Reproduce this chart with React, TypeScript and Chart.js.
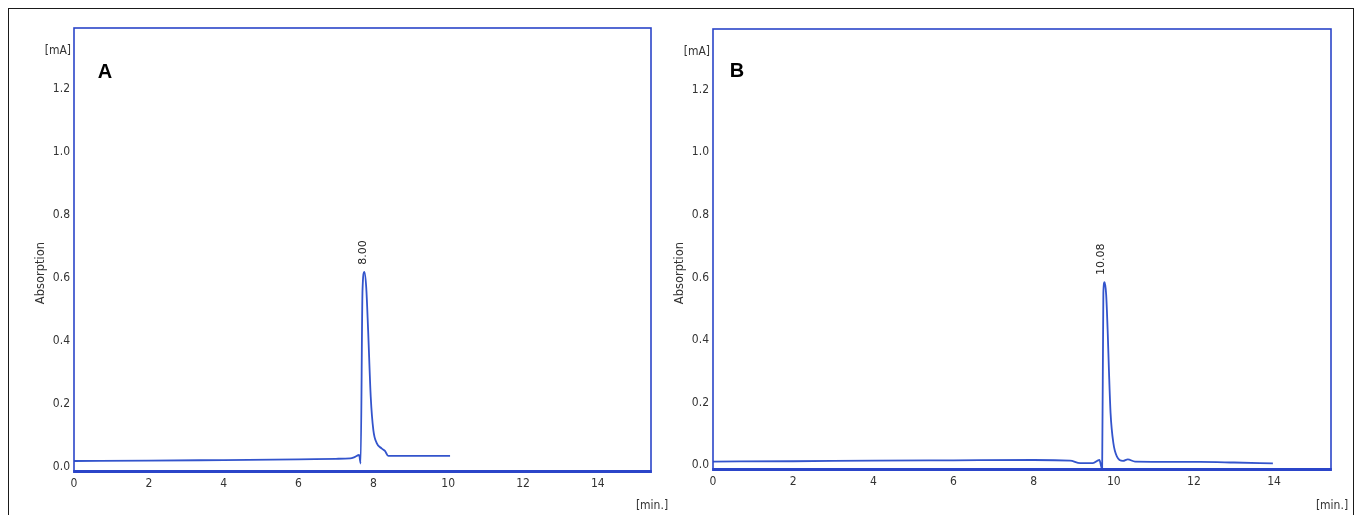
import React, { useEffect, useRef } from "react";
import { Chart, registerables } from "chart.js";

Chart.register(...registerables);

// ---- Data ----
const xTickValues = [0, 2, 4, 6, 8, 10, 12, 14];
const yTickValues = [0, 0.2, 0.4, 0.6, 0.8, 1.0, 1.2];
const X_MAX = 15.42;
const Y_MIN = -0.016;
const Y_MAX = 1.3946;

const timesA = [0, 2, 4, 6, 7, 7.38, 7.51, 7.62, 7.66, 7.71, 7.76, 7.81, 7.86, 7.93, 8.0, 8.09, 8.22, 8.31, 8.4, 9.0, 10.05];
const absorbanceA = [0.019, 0.02, 0.022, 0.024, 0.026, 0.027, 0.032, 0.038, 0.011, 0.56, 0.62, 0.57, 0.435, 0.223, 0.117, 0.076, 0.059, 0.051, 0.035, 0.035, 0.035];
const peakTimeA = 7.76;
const peakValueA = 0.62;
const peakLabelA = "8.00";

const timesB = [0, 2, 4, 6, 8, 8.91, 9.16, 9.48, 9.64, 9.71, 9.74, 9.77, 9.81, 9.85, 9.88, 9.92, 9.99, 10.08, 10.23, 10.35, 10.53, 12.15, 13.0, 13.97];
const absorbanceB = [0.011, 0.012, 0.014, 0.015, 0.016, 0.014, 0.006, 0.006, 0.016, -0.013, 0.55, 0.585, 0.545, 0.42, 0.3, 0.166, 0.07, 0.027, 0.013, 0.018, 0.011, 0.01, 0.008, 0.005];
const peakTimeB = 9.77;
const peakValueB = 0.585;
const peakLabelB = "10.08";

const yAxisUnit = "[mA]";
const xAxisUnit = "[min.]";
const yAxisTitle = "Absorption";

// ---- Styles ----
const FRAME_BLUE = "#2b45c9";
const CURVE_BLUE = "#3354cc";
const TEXT = "#333333";
const NARROW = '"Liberation Sans Narrow", "DejaVu Sans Condensed", "Liberation Sans", sans-serif';
const SANS = '"DejaVu Sans", "Liberation Sans", sans-serif';

type PanelCfg = {
  letter: string;
  times: number[];
  values: number[];
  peakTime: number;
  peakValue: number;
  peakLabel: string;
  left: number;
  width: number;
  height: number;
  padTop: number;
  padRight: number;
  yAxisWidth: number;
  xAxisHeight: number;
  letterDx: number;
  letterY: number;
  peakDx: number;
};

const panels: PanelCfg[] = [
  {
    letter: "A",
    times: timesA,
    values: absorbanceA,
    peakTime: peakTimeA,
    peakValue: peakValueA,
    peakLabel: peakLabelA,
    left: 0,
    width: 680,
    height: 515,
    padTop: 28,
    padRight: 680 - 651,
    yAxisWidth: 74,
    xAxisHeight: 515 - 472,
    letterDx: 31,
    letterY: 72,
    peakDx: -1.5,
  },
  {
    letter: "B",
    times: timesB,
    values: absorbanceB,
    peakTime: peakTimeB,
    peakValue: peakValueB,
    peakLabel: peakLabelB,
    left: 655,
    width: 700,
    height: 515,
    padTop: 29,
    padRight: 700 - 676,
    yAxisWidth: 58,
    xAxisHeight: 515 - 470,
    letterDx: 24,
    letterY: 71,
    peakDx: -3,
  },
];

function makeDecorPlugin(cfg: PanelCfg) {
  return {
    id: "decor" + cfg.letter,
    afterDraw(chart: any) {
      const { ctx, chartArea } = chart;
      const { left, right, top, bottom } = chartArea;
      ctx.save();
      // plot frame
      ctx.strokeStyle = FRAME_BLUE;
      ctx.lineWidth = 1.6;
      ctx.strokeRect(left, top, right - left, bottom - top);
      ctx.lineWidth = 3;
      ctx.beginPath();
      ctx.moveTo(left - 0.8, bottom - 0.5);
      ctx.lineTo(right + 0.8, bottom - 0.5);
      ctx.stroke();

      ctx.fillStyle = TEXT;
      // unit on y
      ctx.font = "12px " + NARROW;
      ctx.textAlign = "right";
      ctx.textBaseline = "middle";
      ctx.fillText(yAxisUnit, left - 3, top + 23);
      // unit on x
      ctx.textAlign = "center";
      ctx.fillText(xAxisUnit, right + 1, 506);

      // y title rotated
      ctx.save();
      ctx.translate(left - 32.5, 273);
      ctx.rotate(-Math.PI / 2);
      ctx.font = "11.5px " + SANS;
      ctx.textAlign = "center";
      ctx.textBaseline = "middle";
      ctx.fillText(yAxisTitle, 0, 0);
      ctx.restore();

      // panel letter
      ctx.fillStyle = "#000";
      ctx.font = "bold 20px " + '"Liberation Sans", Arial, sans-serif';
      ctx.textAlign = "center";
      ctx.textBaseline = "middle";
      ctx.fillText(cfg.letter, left + cfg.letterDx, cfg.letterY);

      // peak label
      const px = chart.scales.x.getPixelForValue(cfg.peakTime) + cfg.peakDx;
      const py = chart.scales.y.getPixelForValue(cfg.peakValue) - 7;
      ctx.save();
      ctx.translate(px, py);
      ctx.rotate(-Math.PI / 2);
      ctx.fillStyle = "#222";
      ctx.font = "11px " + SANS;
      ctx.textAlign = "left";
      ctx.textBaseline = "middle";
      ctx.fillText(cfg.peakLabel, 0, 0);
      ctx.restore();

      ctx.restore();
    },
  };
}

function Panel({ cfg }: { cfg: PanelCfg }) {
  const ref = useRef<HTMLCanvasElement | null>(null);
  useEffect(() => {
    if (!ref.current) return;
    const chart = new Chart(ref.current, {
      type: "line",
      data: {
        datasets: [
          {
            data: cfg.times.map((t, i) => ({ x: t, y: cfg.values[i] })),
            borderColor: CURVE_BLUE,
            borderWidth: 1.8,
            pointRadius: 0,
            fill: false,
            cubicInterpolationMode: "monotone",
          },
        ],
      },
      options: {
        animation: false,
        responsive: false,
        maintainAspectRatio: false,
        layout: { padding: { top: cfg.padTop, right: cfg.padRight, left: 0, bottom: 0 } },
        plugins: { legend: { display: false }, tooltip: { enabled: false } },
        scales: {
          x: {
            type: "linear",
            min: 0,
            max: X_MAX,
            grid: { display: false, drawTicks: false },
            border: { display: false },
            afterBuildTicks: (s: any) => {
              s.ticks = xTickValues.map((v) => ({ value: v }));
            },
            afterFit: (s: any) => {
              s.height = cfg.xAxisHeight;
            },
            ticks: {
              padding: 5,
              color: TEXT,
              font: { family: NARROW, size: 12 },
              autoSkip: false,
              maxRotation: 0,
              callback: (v: any) => String(v),
            },
          },
          y: {
            type: "linear",
            min: Y_MIN,
            max: Y_MAX,
            grid: { display: false, drawTicks: false },
            border: { display: false },
            afterBuildTicks: (s: any) => {
              s.ticks = yTickValues.map((v) => ({ value: v }));
            },
            afterFit: (s: any) => {
              s.width = cfg.yAxisWidth;
            },
            ticks: {
              padding: 4,
              color: TEXT,
              font: { family: NARROW, size: 12 },
              autoSkip: false,
              callback: (v: any) => Number(v).toFixed(1),
            },
          },
        },
      } as any,
      plugins: [makeDecorPlugin(cfg)],
    });
    return () => chart.destroy();
  }, [cfg]);
  return (
    <canvas
      ref={ref}
      width={cfg.width}
      height={cfg.height}
      style={{ position: "absolute", left: cfg.left, top: 0, width: cfg.width, height: cfg.height, display: "block" }}
    />
  );
}

export default function App() {
  return (
    <div
      style={{
        position: "absolute",
        left: 0,
        top: 0,
        width: 1355,
        height: 515,
        overflow: "hidden",
        background: "#fff",
      }}
    >
      <div
        style={{
          position: "absolute",
          left: 8,
          top: 8,
          width: 1346,
          height: 600,
          border: "1.5px solid #1a1a1a",
          boxSizing: "border-box",
        }}
      />
      {panels.map((p) => (
        <Panel key={p.letter} cfg={p} />
      ))}
    </div>
  );
}
